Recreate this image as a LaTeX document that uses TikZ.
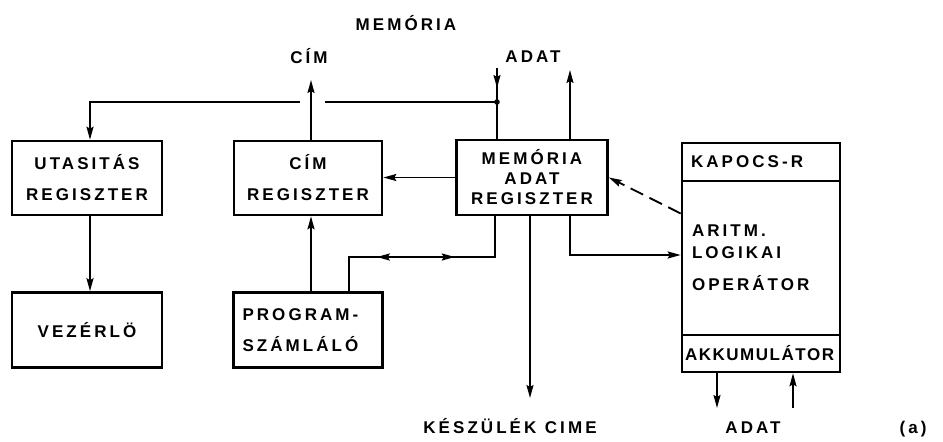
\documentclass[tikz,border=0pt]{standalone}
\usepackage{fontspec}
\setmainfont[LetterSpace=18]{Liberation Sans}
\newfontfamily\akkufont[LetterSpace=9]{Liberation Sans}
\usetikzlibrary{arrows.meta,decorations.markings}

\begin{document}
\begin{tikzpicture}[x=1pt, y=-1pt,
    font=\fontsize{17}{20}\selectfont\bfseries,
    >={Stealth[length=13pt,width=7pt,inset=2pt]},
    box/.style={draw, line width=2.6pt, inner sep=0pt, align=center},
    leftbox/.style={box, align=left},
    conn/.style={line width=1.8pt},
    arr/.style={conn, ->},
    lbl/.style={anchor=base, inner sep=0pt},
    inarrow/.style={conn, postaction={decorate},
        decoration={markings, mark=at position 20pt with {\arrow{>}}}},
    bothways/.style={conn, postaction={decorate},
        decoration={markings,
            mark=at position 62pt with {\arrowreversed{>}},
            mark=at position 140pt with {\arrow{>}}}},
    dashline/.style={arr, dash pattern=on 14pt off 7pt}]
    \useasboundingbox (0,0) rectangle (943,442);

    % registers
    \node[box, minimum width=150, minimum height=74] (utas) at (87,178) {UTASITÁS\\[11pt]REGISZTER};
    \node[box, minimum width=150, minimum height=75] (vez) at (87,330) {VEZÉRLÖ};
    \node[box, minimum width=148, minimum height=74] (cimreg) at (308,178) {CÍM\\[11pt]REGISZTER};
    \node[leftbox, minimum width=149, minimum height=75, inner xsep=9pt, text width=131pt] (pc) at (308,330) {PROGRAM-\\[11pt]SZÁMLÁLÓ};
    \node[box, minimum width=151, minimum height=75] (mdr) at (532,177.5) {MEMÓRIA\\ADAT\\REGISZTER};

    % arithmetic unit
    \node[leftbox, minimum width=158, minimum height=38, inner xsep=9pt, text width=140pt] (kapocs) at (761,162) {KAPOCS-R};
    \node[leftbox, minimum width=158, minimum height=154, inner xsep=10pt, text width=138pt] (alu) at (761,258) {ARITM.\\[2pt]LOGIKAI\\[12pt]OPERÁTOR};
    \node[leftbox, minimum width=158, minimum height=37, inner xsep=3pt, text width=152pt, font=\fontsize{17}{20}\akkufont\bfseries] (akku) at (761,353.5) {AKKUMULÁTOR};

    % labels
    \node[lbl] (memlbl) at (406,30) {MEMÓRIA};
    \node[lbl] (cimlbl) at (309,63) {CÍM};
    \node[lbl] (adatlbl) at (533,62) {ADAT};
    \node[lbl] (devlbl) at (510,433) {KÉSZÜLÉK\enspace CIME};
    \node[lbl] (adatlbl2) at (753,433) {ADAT};
    \node[lbl] (alabel) at (913,433) {(a)};

    % free ends
    \coordinate (memin) at (497,68);
    \coordinate (junc) at (497,102);
    \coordinate (gapr) at (325,102);
    \coordinate (gapl) at (300,102);
    \coordinate (buscorner) at (90,102);
    \coordinate (cimup) at (311,80);
    \coordinate (adatup) at (570,70);
    \coordinate (pcbus) at (349,257);
    \coordinate (mdrbus) at (495,257);
    \coordinate (alubus) at (570,255);
    \coordinate (devend) at (530,398);
    \coordinate (adatdown) at (717,408);
    \coordinate (adatin) at (793,408);

    % memory bus
    \draw[inarrow] (memin) -- (mdr.north -| memin);
    \draw[conn] (junc) -- (gapr);
    \draw[arr] (gapl) -- (buscorner) -- (buscorner |- utas.north);
    \fill (junc) circle (2.8pt);
    \draw[arr] (cimreg.north -| cimup) -- (cimup);
    \draw[arr] (mdr.north -| adatup) -- (adatup);

    % internal connections
    \draw[arr] (mdr.west) -- (mdr.west -| cimreg.east);
    \draw[arr] (utas.south -| buscorner) -- (vez.north -| buscorner);
    \draw[arr] (pc.north -| cimup) -- (cimreg.south -| cimup);
    \draw[bothways] (pc.north -| pcbus) -- (pcbus) -- (mdrbus) -- (mdr.south -| mdrbus);
    \draw[arr] (mdr.south -| alubus) -- (alubus) -- (alubus -| alu.west);
    \draw[arr] (mdr.south -| devend) -- (devend);
    \draw[dashline] (alu.151) -- (mdr.east);

    % accumulator data
    \draw[arr] (akku.south -| adatdown) -- (adatdown);
    \draw[arr] (adatin) -- (akku.south -| adatin);
\end{tikzpicture}
\end{document}
